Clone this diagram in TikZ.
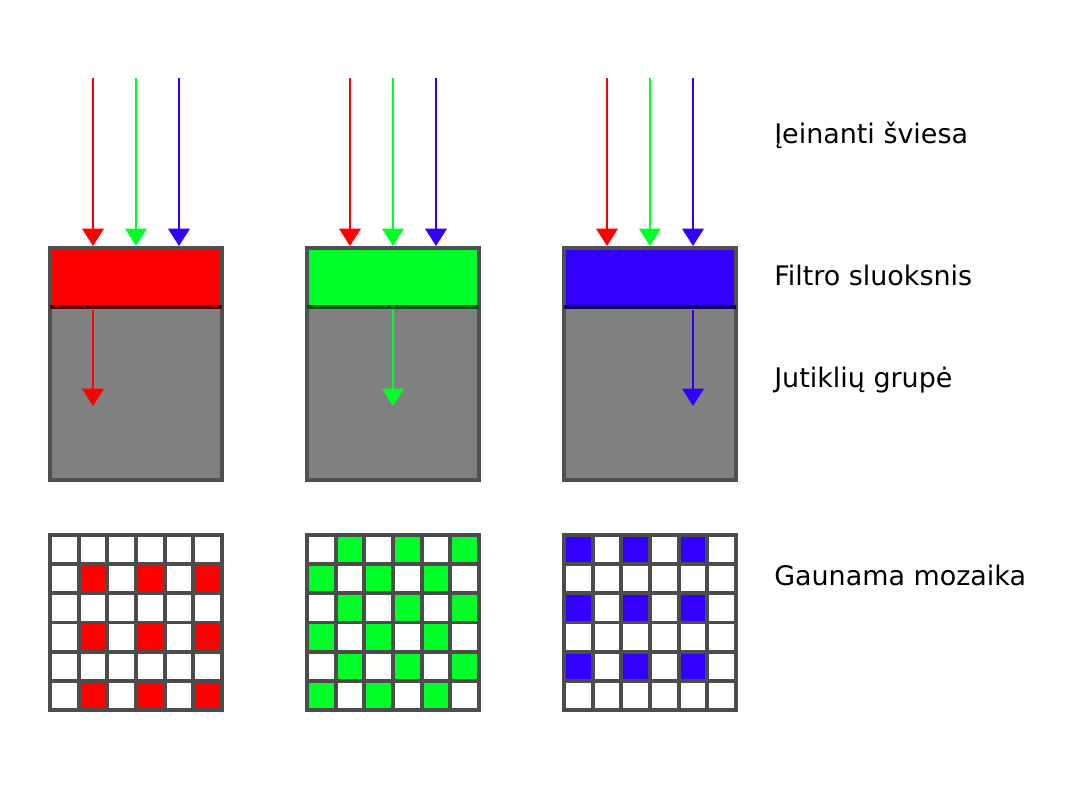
\documentclass[tikz,border=0pt]{standalone}
\usepackage{fontspec}
\setmainfont{DejaVu Sans}
\usetikzlibrary{positioning,arrows.meta}
\definecolor{fred}{RGB}{255,0,0}
\definecolor{fgreen}{RGB}{0,255,40}
\definecolor{fblue}{RGB}{51,0,255}
\definecolor{sensor}{RGB}{128,128,128}
\definecolor{rim}{RGB}{80,80,80}
\tikzset{>={Triangle[width=16pt,length=13pt]},
  ray/.style={->,line width=2pt},
  sensorbox/.style={draw=rim,line width=2.6pt,fill=sensor},
  filterbox/.style={draw=rim,line width=2.6pt},
  cellline/.style={draw=black!70,line width=2.8pt,line cap=rect},
  lbl/.style={anchor=base west,inner sep=0pt,font=\fontsize{20.2}{24}\selectfont}}

\begin{document}
\begin{tikzpicture}[x=0.75pt,y=-0.75pt]
\useasboundingbox (0,0) rectangle (1077,800);
\def\cw{28.667}
\def\ch{29.167}
% filter + sensor columns
\foreach \x/\f/\o/\n in {50/fred/43/a,307/fgreen/86/b,564/fblue/129/c} {
  \draw[sensorbox] (\x,307) rectangle ++(172,173);
  \draw[filterbox,fill=\f] (\x,248) rectangle ++(172,59);
  \draw[line width=3pt,\f!35!black] (\x,307) -- ++(172,0);
  \coordinate (R\n) at (\x+43,78);
  \coordinate (G\n) at (\x+86,78);
  \coordinate (B\n) at (\x+129,78);
  \coordinate (R\n') at (\x+43,246);
  \coordinate (G\n') at (\x+86,246);
  \coordinate (B\n') at (\x+129,246);
  \coordinate (T\n) at (\x+\o,310);
  \coordinate (T\n') at (\x+\o,406);
  \draw[ray,fred] (R\n) -- (R\n');
  \draw[ray,fgreen] (G\n) -- (G\n');
  \draw[ray,fblue] (B\n) -- (B\n');
  \draw[ray,\f] (T\n) -- (T\n');
}
% mosaics
\foreach \r in {1,3,5} \foreach \c in {1,3,5}
  \fill[fred] ({50+\c*\cw},{535+\r*\ch}) rectangle +(\cw,\ch);
\foreach \r in {0,...,5} \foreach \c in {0,...,5} {
  \pgfmathparse{int(mod(\r+\c,2))}
  \ifnum\pgfmathresult=1
    \fill[fgreen] ({307+\c*\cw},{535+\r*\ch}) rectangle +(\cw,\ch);
  \fi
}
\foreach \r in {0,2,4} \foreach \c in {0,2,4}
  \fill[fblue] ({564+\c*\cw},{535+\r*\ch}) rectangle +(\cw,\ch);
\foreach \x in {50,307,564} \foreach \i in {0,...,6} {
  \draw[cellline] ({\x+\i*\cw},535) -- ++(0,175);
  \draw[cellline] (\x,{535+\i*\ch}) -- ++(172,0);
}
% labels
\node[lbl] (light) at (774,143) {Įeinanti šviesa};
\node[lbl] (filter) at (774,285) {Filtro sluoksnis};
\node[lbl] (sensors) at (774,387) {Jutiklių grupė};
\node[lbl] (mosaic) at (774,585) {Gaunama mozaika};
\end{tikzpicture}
\end{document}
